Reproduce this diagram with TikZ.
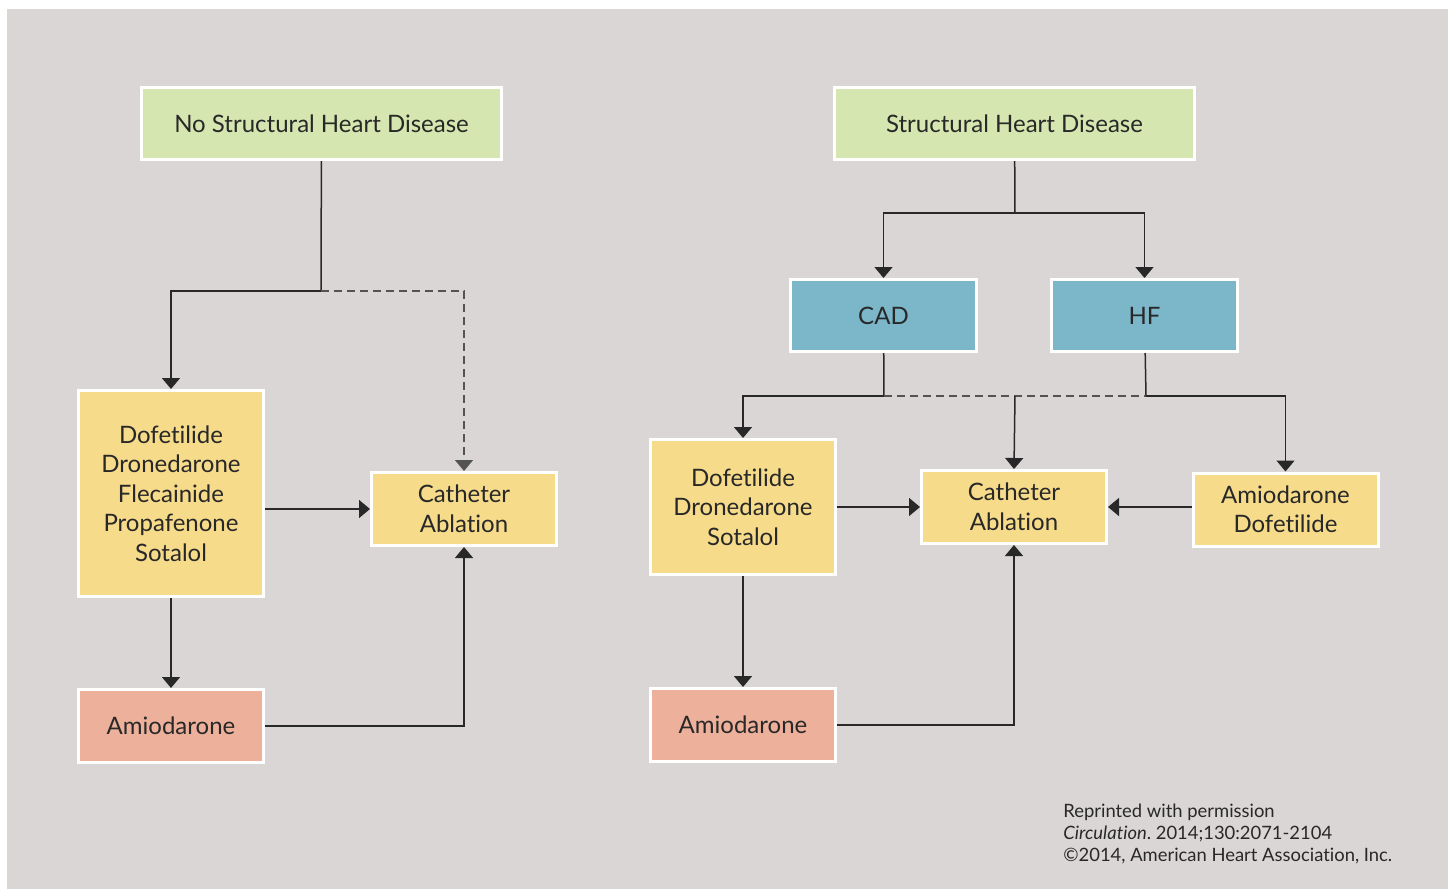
\documentclass[tikz,border=0pt]{standalone}
\usepackage{fontspec}
\setmainfont{Lato}[Ligatures=NoCommon]
\usepackage{tikz}
\usetikzlibrary{arrows.meta}
\frenchspacing

\definecolor{bggrey}{RGB}{218,214,213}
\definecolor{disgreen}{RGB}{214,230,176}
\definecolor{disblue}{RGB}{124,182,201}
\definecolor{drugyellow}{RGB}{246,219,138}
\definecolor{amiored}{RGB}{237,176,155}
\definecolor{inkgrey}{RGB}{40,40,40}

\tikzset{
  box/.style={draw=white,line width=1.5pt,text=inkgrey,align=center,
    font=\fontsize{12}{14.75}\selectfont,inner sep=0pt},
  widebox/.style={box,fill=disgreen,minimum width=180pt,minimum height=36pt},
  groupbox/.style={box,fill=disblue,minimum width=93pt,minimum height=36pt},
  drugbox/.style={box,fill=drugyellow,minimum width=92.5pt},
  amiobox/.style={box,fill=amiored,minimum width=92.5pt,minimum height=36.5pt},
  link/.style={draw=inkgrey,line width=0.75pt},
  tip/.style={-{Triangle[width=9pt,length=5.5pt]}},
  arr/.style={link,tip},
  maybe/.style={draw=inkgrey!80,line width=0.75pt,dash pattern=on 4pt off 2.5pt},
  credit/.style={anchor=base west,inner sep=0pt,text=inkgrey,font=\fontsize{9.2}{11}\selectfont}
}

\begin{document}
\begin{tikzpicture}[x=0.5pt,y=-0.5pt]
\fill[white] (0,0) rectangle (1448,889);
\fill[bggrey] (7,9) rectangle (1448,889);
\useasboundingbox (0,0) rectangle (1448,889);

%%% no structural heart disease %%%

  \node (nshd) at (321.5,123.5) [widebox] {No Structural Heart Disease};
  \node (ldrug) at (171,493.5) [drugbox,minimum height=103pt]
     {Dofetilide\\Dronedarone\\Flecainide\\Propafenone\\Sotalol};
  \node (lca) at (464,509) [drugbox,minimum height=36.5pt] {Catheter\\Ablation};
  \node (lamio) at (171,726) [amiobox] {Amiodarone};
  \coordinate (lsplit) at (321,291);

\draw[link] (nshd) -- (lsplit);
\draw[arr] (lsplit) -| (ldrug.north);
\draw[maybe,tip] (lsplit) -| (lca.north);
\draw[arr] (ldrug.east |- lca.west) -- (lca.west);
\draw[arr] (ldrug) -- (lamio.north);
\draw[arr] (lamio.east) -| (lca.south);

%%% structural heart disease %%%

  \node (shd) at (1014.5,123.5) [widebox] {Structural Heart Disease};
  \node (cad) at (883.5,315.5) [groupbox] {CAD};
  \node (hf) at (1144.5,315.5) [groupbox] {HF};
  \node (rdrug) at (743,507) [drugbox,minimum height=67.5pt]
     {Dofetilide\\Dronedarone\\Sotalol};
  \node (rca) at (1014,507) [drugbox,minimum height=36.5pt] {Catheter\\Ablation};
  \node (rad) at (1285.5,509.5) [drugbox,minimum height=36.5pt] {Amiodarone\\Dofetilide};
  \node (ramio) at (743,725) [amiobox] {Amiodarone};
  \coordinate (rsplit) at (1015,213);
  \coordinate (cadj) at (884,396);
  \coordinate (hfj) at (1146,396);
  \coordinate (midj) at (1015,396);

\draw[link] (shd) -- (rsplit);
\draw[arr] (rsplit) -| (cad.north);
\draw[arr] (rsplit) -| (hf.north);
\draw[link] (cad) -- (cadj);
\draw[link] (hf) -- (hfj);
\draw[maybe] (cadj) -- (hfj);
\draw[arr] (cadj) -| (rdrug.north);
\draw[arr] (hfj) -| (rad.north);
\draw[arr] (midj) -- (rca.north);
\draw[arr] (rdrug.east |- rca.west) -- (rca.west);
\draw[arr] (rad.west |- rca.east) -- (rca.east);
\draw[arr] (rdrug) -- (ramio.north);
\draw[arr] (ramio.east) -| (rca.south);

%%% source %%%
  \node (credit1) at (1063,817) [credit] {Reprinted with permission};
  \node (credit2) at (1063,839) [credit] {\textit{Circulation}. 2014;130:2071-2104};
  \node (credit3) at (1063,861) [credit] {©2014, American Heart Association, Inc.};
\end{tikzpicture}
\end{document}
